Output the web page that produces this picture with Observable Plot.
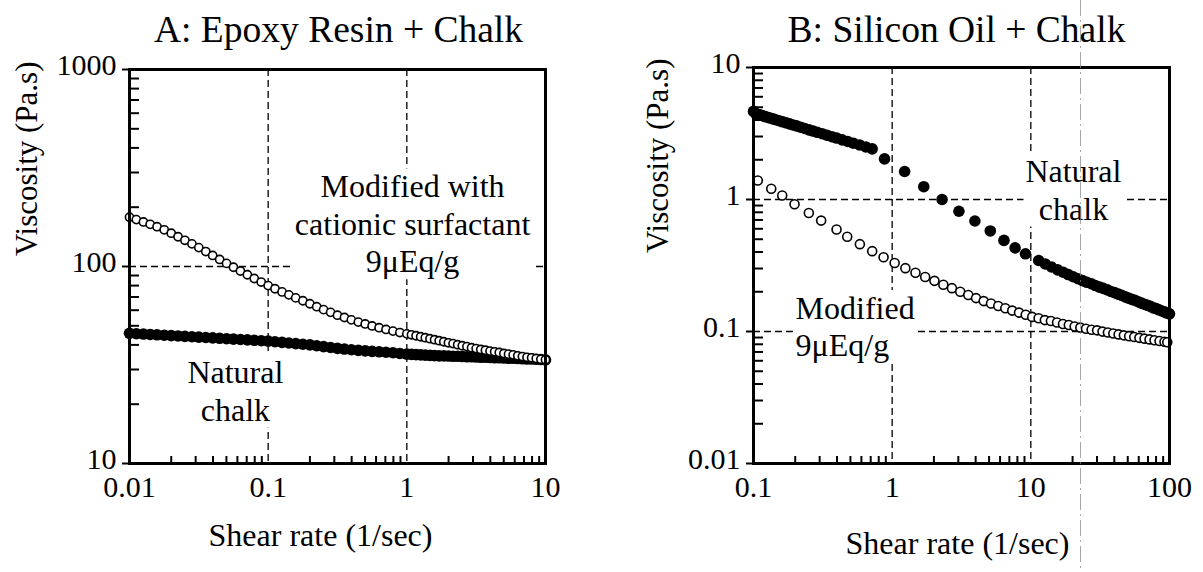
<!DOCTYPE html>
<html><head><meta charset="utf-8">
<script src="https://cdn.jsdelivr.net/npm/d3@7"></script>
<script src="https://cdn.jsdelivr.net/npm/@observablehq/plot@0.6"></script>
<style>
html,body{margin:0;padding:0;background:#fff;}
#wrap{position:relative;width:1203px;height:572px;overflow:hidden;background:#fff;}
#wrap svg{position:absolute;top:0;}
#wrap svg text{font-family:"Liberation Serif","Times New Roman",serif !important;}
#scanline{position:absolute;left:1080px;top:0;width:1px;height:572px;background:repeating-linear-gradient(to bottom,#8a8a8a 0 16px,transparent 16px 20px,#8a8a8a 20px 22px,transparent 22px 26px);opacity:.75;}
</style></head>
<body><div id="wrap"></div>
<script>
// ---------- Panel A: Epoxy resin + chalk ----------
const titleA = "A: Epoxy Resin + Chalk";
const xTicksA = [0.01, 0.1, 1, 10];
const yTicksA = [10, 100, 1000];
const shearA = [
  0.0100, 0.0112, 0.0126, 0.0141, 0.0158, 0.0178, 0.0200, 0.0224, 0.0251, 0.0282,
  0.0316, 0.0355, 0.0398, 0.0447, 0.0501, 0.0562, 0.0631, 0.0708, 0.0794, 0.0891,
  0.100, 0.112, 0.126, 0.141, 0.158, 0.178, 0.200, 0.224, 0.251, 0.282,
  0.316, 0.355, 0.398, 0.447, 0.501, 0.562, 0.631, 0.708, 0.794, 0.891,
  1.000, 1.080, 1.166, 1.259, 1.359, 1.468, 1.585, 1.711, 1.848, 1.995,
  2.154, 2.326, 2.512, 2.712, 2.929, 3.162, 3.415, 3.687, 3.981, 4.299,
  4.642, 5.012, 5.412, 5.843, 6.310, 6.813, 7.356, 7.943, 8.577, 9.261, 10.00
];
const viscAModified = [
  177.8, 173.0, 168.3, 163.7, 159.2, 153.5, 147.6, 141.6, 135.8, 130.3,
  124.7, 119.1, 113.8, 108.6, 103.7, 99.1, 94.8, 90.8, 86.9, 83.4,
  80.0, 77.1, 74.3, 71.8, 69.3, 67.0, 64.7, 62.5, 60.4, 58.5,
  56.6, 55.1, 53.6, 52.2, 51.1, 49.9, 48.9, 47.9, 47.0, 46.2,
  45.5, 45.0, 44.5, 44.0, 43.5, 43.0, 42.5, 42.0, 41.5, 41.0,
  40.6, 40.1, 39.6, 39.2, 38.7, 38.3, 37.9, 37.6, 37.2, 36.9,
  36.6, 36.2, 35.9, 35.6, 35.2, 34.9, 34.6, 34.4, 34.1, 33.8, 33.6
];
const viscANatural = [
  45.8, 45.6, 45.4, 45.2, 45.0, 44.8, 44.6, 44.4, 44.2, 44.0,
  43.8, 43.6, 43.4, 43.2, 43.0, 42.8, 42.6, 42.4, 42.2, 42.0,
  41.8, 41.5, 41.2, 40.9, 40.6, 40.3, 40.0, 39.6, 39.2, 38.8,
  38.4, 38.1, 37.8, 37.5, 37.3, 37.1, 36.9, 36.7, 36.5, 36.2,
  35.9, 35.8, 35.7, 35.6, 35.5, 35.4, 35.3, 35.2, 35.2, 35.1,
  35.0, 35.0, 34.9, 34.8, 34.8, 34.7, 34.6, 34.6, 34.5, 34.4,
  34.4, 34.3, 34.2, 34.2, 34.1, 34.0, 33.9, 33.9, 33.8, 33.7, 33.6
];
const labelsA = [
  {text: "Modified with\ncationic surfactant\n9\u03bcEq/g", x: 1.10, y: 93.5, anchor: "middle"},
  {text: "Natural\nchalk", x: 0.058, y: 16.5, anchor: "middle"}
];

// ---------- Panel B: Silicon oil + chalk ----------
const titleB = "B: Silicon Oil + Chalk";
const xTicksB = [0.1, 1, 10, 100];
const yTicksB = [0.01, 0.1, 1, 10];
const shearBNatural = [
  0.1000, 0.1035, 0.1072, 0.1109, 0.1148, 0.1202, 0.1259, 0.1318, 0.1380, 0.1445,
  0.1531, 0.1622, 0.1718, 0.1820, 0.1928, 0.2042, 0.2188, 0.2344, 0.2512, 0.2692,
  0.2884, 0.3126, 0.3388, 0.3673, 0.3981, 0.4365, 0.4786, 0.5248, 0.5821, 0.6457, 0.7178,
  0.881, 1.23, 1.69, 2.29, 3.03, 3.95, 5.10, 6.40, 7.70, 9.15,
  11.4, 12.7, 14.1, 15.6, 17.1, 18.6, 20.2, 21.9, 23.6, 25.4,
  27.3, 29.2, 31.3, 33.3, 35.6, 37.8, 40.2, 42.7, 45.2, 47.9,
  50.6, 53.5, 56.4, 59.4, 62.7, 65.9, 69.3, 72.8, 76.4, 80.2,
  83.9, 87.9, 91.8, 95.9, 100
];
const viscBNatural = [
  4.65, 4.50, 4.42, 4.38, 4.33, 4.26, 4.20, 4.14, 4.08, 4.02,
  3.95, 3.88, 3.81, 3.74, 3.67, 3.61, 3.53, 3.45, 3.37, 3.30,
  3.23, 3.15, 3.07, 2.99, 2.92, 2.83, 2.75, 2.67, 2.59, 2.50, 2.42,
  2.03, 1.63, 1.25, 1.00, 0.815, 0.687, 0.578, 0.490, 0.430, 0.388,
  0.345, 0.325, 0.308, 0.293, 0.281, 0.270, 0.260, 0.251, 0.243, 0.236,
  0.230, 0.223, 0.217, 0.212, 0.207, 0.201, 0.197, 0.192, 0.188, 0.183,
  0.179, 0.175, 0.172, 0.168, 0.164, 0.161, 0.158, 0.155, 0.151, 0.149,
  0.146, 0.143, 0.141, 0.138, 0.136
];
const shearBModified = [
  0.1074, 0.1343, 0.1611, 0.1977, 0.2506, 0.3076, 0.3972, 0.4742, 0.5848, 0.7178,
  0.8670, 1.042, 1.245, 1.472, 1.730, 2.018, 2.339, 2.698, 3.097, 3.540,
  4.027, 4.571, 5.164, 5.821, 6.546, 7.345, 8.222, 9.183, 10.23, 11.38,
  12.62, 13.96, 15.45, 17.06, 18.79, 20.70, 22.75, 25.00, 27.42, 30.06,
  32.89, 35.97, 39.36, 42.95, 46.88, 51.17, 55.72, 60.67, 66.07, 71.78,
  77.98, 84.72, 92.04, 96.38
];
const viscBModified = [
  1.393, 1.205, 1.072, 0.920, 0.791, 0.692, 0.592, 0.522, 0.459, 0.406,
  0.365, 0.330, 0.302, 0.279, 0.259, 0.242, 0.226, 0.213, 0.200, 0.189,
  0.179, 0.170, 0.163, 0.156, 0.150, 0.144, 0.139, 0.134, 0.129, 0.126,
  0.122, 0.120, 0.117, 0.114, 0.112, 0.109, 0.107, 0.105, 0.103, 0.102,
  0.0998, 0.0982, 0.0966, 0.0951, 0.0935, 0.0920, 0.0908, 0.0895, 0.0883, 0.0871,
  0.0859, 0.0847, 0.0836, 0.0830
];
const labelsB = [
  {text: "Natural\nchalk", x: 20.3, y: 0.705, anchor: "middle"},
  {text: "Modified\n9\u03bcEq/g", x: 0.201, y: 0.0647, anchor: "start"}
];

const xAxisLabel = "Shear rate (1/sec)";
const yAxisLabel = "Viscosity (Pa.s)";

// ---------- drawing ----------
const FONT = "Liberation Serif";
const H = 572;
const fmt = d => String(d);

function minorTicks(lo, hi) {
  const out = [];
  for (let d = lo; d < hi * 0.999; d = +(d * 10).toPrecision(3)) {
    for (let k = 2; k <= 9; k++) out.push(+(d * k).toPrecision(3));
  }
  return out;
}

function panel(cfg) {
  const fw = cfg.width - cfg.marginLeft - cfg.marginRight;
  const fh = H - cfg.marginTop - cfg.marginBottom;
  const dash = {stroke: "black", strokeWidth: 1.3, strokeDasharray: "7,4"};
  const series = cfg.series.map(s => {
    const data = s.x.map((x, i) => ({x, y: s.y[i]}));
    return Plot.dot(data, {x: "x", y: "y", r: s.r, fill: s.fill, stroke: s.stroke, strokeWidth: s.strokeWidth});
  });
  const annotation = ["middle", "start"].map(a =>
    Plot.text(cfg.labels.filter(l => l.anchor === a), {
      x: "x", y: "y", text: "text", textAnchor: a, lineAnchor: "bottom",
      lineHeight: 1.17, fontSize: 32, fontFamily: FONT, fill: "black"
    })
  );
  const svg = Plot.plot({
    width: cfg.width, height: H,
    marginLeft: cfg.marginLeft, marginRight: cfg.marginRight,
    marginTop: cfg.marginTop, marginBottom: cfg.marginBottom,
    style: {fontFamily: FONT, background: "transparent", overflow: "visible", color: "black"},
    x: {type: "log", domain: cfg.xDomain},
    y: {type: "log", domain: cfg.yDomain},
    marks: [
      Plot.ruleX(cfg.gridX, dash),
      Plot.ruleY(cfg.gridY, dash),
      Plot.tickY(minorTicks(cfg.yDomain[0], cfg.yDomain[1]), {y: d => d, insetRight: fw - 10, strokeWidth: 2}),
      Plot.tickX(minorTicks(cfg.xDomain[0], cfg.xDomain[1]), {x: d => d, insetTop: fh - 7, strokeWidth: 2}),
      ...series,
      Plot.frame({strokeWidth: 3}),
      Plot.axisY({ticks: cfg.yTicks, tickSize: 7, fill: "none", strokeWidth: 2, label: null, tickFormat: fmt}),
      Plot.axisY({ticks: cfg.yTicks, tickSize: 0, tickPadding: 13, fontSize: 30, fontFamily: FONT, dy: -4.5, tickFormat: fmt, label: null}),
      Plot.axisX({ticks: cfg.xTicks, tickSize: 0, tickPadding: 12, fontSize: 30, fontFamily: FONT, tickFormat: fmt, label: null}),
      Plot.text([cfg.title], {text: d => d, frameAnchor: "top", lineAnchor: "bottom", dx: cfg.titleDx, dy: cfg.titleDy, fontSize: 37.5, fontFamily: FONT}),
      Plot.text([xAxisLabel], {text: d => d, frameAnchor: "bottom", lineAnchor: "bottom", dx: cfg.xLabDx, dy: cfg.xLabDy, fontSize: 32, fontFamily: FONT}),
      Plot.text([yAxisLabel], {text: d => d, frameAnchor: "left", rotate: -90, lineAnchor: "bottom", dx: cfg.yLabDx, dy: cfg.yLabDy, fontSize: 31, fontFamily: FONT}),
      ...annotation
    ]
  });
  svg.style.left = cfg.left + "px";
  document.getElementById("wrap").appendChild(svg);
  // white boxes behind the annotation texts (hide the grid lines, as in the original)
  const wanted = new Set(cfg.labels.map(l => l.text.replace(/\n/g, "")));
  svg.querySelectorAll("text").forEach(t => {
    if (!wanted.has(t.textContent)) return;
    const b = t.getBBox();
    const r = document.createElementNS("http://www.w3.org/2000/svg", "rect");
    r.setAttribute("x", b.x - 2);
    r.setAttribute("y", b.y);
    r.setAttribute("width", b.width + 4);
    r.setAttribute("height", b.height);
    r.setAttribute("fill", "white");
    r.setAttribute("stroke", "none");
    const tr = t.getAttribute("transform");
    if (tr) r.setAttribute("transform", tr);
    t.parentNode.insertBefore(r, t);
  });
  return svg;
}

panel({
  left: 0, width: 600, marginLeft: 129, marginRight: 55, marginTop: 69, marginBottom: 109,
  xDomain: [0.01, 10], yDomain: [10, 1000], xTicks: xTicksA, yTicks: yTicksA,
  gridX: [0.1, 1], gridY: [100],
  series: [
    {x: shearA, y: viscANatural, r: 5.8, fill: "black", stroke: "none", strokeWidth: 0},
    {x: shearA, y: viscAModified, r: 4.1, fill: "white", stroke: "black", strokeWidth: 1.6}
  ],
  labels: labelsA, title: titleA,
  titleDx: 1, titleDy: -28, xLabDx: -17, xLabDy: 82, yLabDx: -92.5, yLabDy: -10.5
});

panel({
  left: 600, width: 603, marginLeft: 153, marginRight: 34, marginTop: 67, marginBottom: 109,
  xDomain: [0.1, 100], yDomain: [0.01, 10], xTicks: xTicksB, yTicks: yTicksB,
  gridX: [1, 10], gridY: [0.1, 1],
  series: [
    {x: shearBNatural, y: viscBNatural, r: 5.8, fill: "black", stroke: "none", strokeWidth: 0},
    {x: shearBModified, y: viscBModified, r: 4.5, fill: "white", stroke: "black", strokeWidth: 1.6}
  ],
  labels: labelsB, title: titleB,
  titleDx: -5, titleDy: -26, xLabDx: -4, xLabDy: 90, yLabDx: -85.5, yLabDy: -12.5
});

const scan = document.createElement("div");
scan.id = "scanline";
document.getElementById("wrap").appendChild(scan);
</script>
</body></html>
